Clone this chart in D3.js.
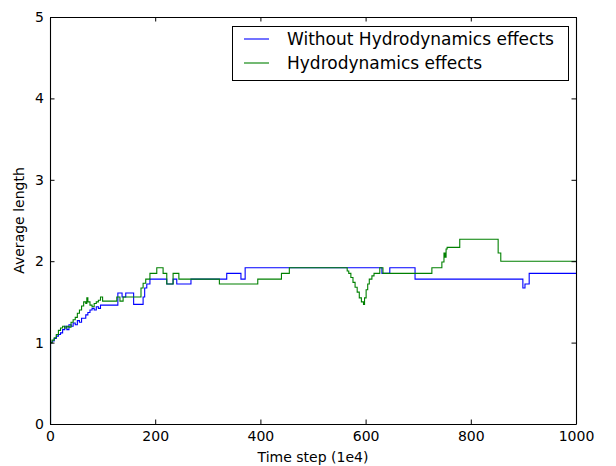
<!DOCTYPE html>
<html>
<head>
<meta charset="utf-8">
<script src="https://cdn.jsdelivr.net/npm/d3@7"></script>
<style>
  html, body { margin: 0; padding: 0; background: #ffffff; }
  svg { display: block; font-family: "DejaVu Sans", sans-serif; }
</style>
</head>
<body>
<script>
// ---- data ----
const seriesNames = ["Without Hydrodynamics effects", "Hydrodynamics effects"];
const seriesColors = ["#0000ff", "#008000"];

const xTicks = [0, 200, 400, 600, 800, 1000];
const yTicks = [0, 1, 2, 3, 4, 5];

// step-after points: [time step, average length]
const withoutHydro = [
  [0,0],[1,1.0],[4,1.02],[8,1.05],[12,1.08],[16,1.1],[20,1.12],[24,1.16],[28,1.2],[32,1.16],
  [36,1.22],[40,1.2],[44,1.24],[48,1.22],[52,1.27],[56,1.25],[60,1.3],[64,1.3],[68,1.34],
  [72,1.37],[76,1.4],[80,1.42],[84,1.4],[88,1.44],[92,1.42],[96,1.46],[129,1.61],[137,1.56],
  [144,1.61],[159,1.47],[177,1.56],[180,1.67],[184,1.72],[190,1.78],[222,1.72],[234,1.78],
  [241,1.72],[268,1.78],[336,1.85],[363,1.78],[371,1.92],[631,1.85],[646,1.92],[694,1.78],
  [899,1.67],[903,1.72],[911,1.85],[1000,1.85]
];
const withHydro = [
  [0,0],[1,1.0],[4,1.03],[8,1.06],[12,1.1],[16,1.15],[20,1.18],[24,1.2],[28,1.18],[32,1.2],
  [36,1.19],[40,1.25],[44,1.28],[48,1.31],[52,1.36],[56,1.4],[60,1.45],[64,1.5],[68,1.48],
  [70,1.55],[72,1.5],[76,1.46],[80,1.44],[84,1.48],[88,1.5],[92,1.52],[96,1.56],[100,1.51],
  [127,1.56],[133,1.51],[139,1.56],[173,1.67],[177,1.73],[182,1.78],[190,1.85],[203,1.92],
  [215,1.85],[222,1.72],[234,1.85],[245,1.78],[322,1.72],[395,1.78],[440,1.85],[455,1.92],
  [565,1.88],[568,1.85],[572,1.8],[576,1.74],[580,1.68],[584,1.62],[588,1.55],[592,1.5],
  [596,1.47],[598,1.55],[601,1.65],[604,1.72],[607,1.78],[612,1.82],[616,1.85],[627,1.92],
  [633,1.85],[726,1.92],[745,1.99],[749,2.1],[751,2.05],[753,2.15],[755,2.17],[779,2.27],
  [852,2.1],[857,2.0],[1000,2.0]
];

const xLabel = "Time step (1e4)";
const yLabel = "Average length";

// ---- layout ----
const W = 616, H = 466;
const plot = { left: 50, right: 576, top: 17, bottom: 424 };

const svg = d3.select("body").append("svg")
  .attr("width", W).attr("height", H);
svg.append("rect").attr("width", W).attr("height", H).attr("fill", "#fff");

const x = d3.scaleLinear().domain([0, 1000]).range([plot.left, plot.right]);
const y = d3.scaleLinear().domain([0, 5]).range([plot.bottom, plot.top]);

svg.append("defs").append("clipPath").attr("id", "clip")
  .append("rect")
  .attr("x", plot.left).attr("y", plot.top)
  .attr("width", plot.right - plot.left).attr("height", plot.bottom - plot.top);

const line = d3.line()
  .x(d => x(d[0])).y(d => y(d[1]))
  .curve(d3.curveStepAfter);

const g = svg.append("g").attr("clip-path", "url(#clip)");
[withoutHydro, withHydro].forEach((data, i) => {
  g.append("path")
    .datum(data)
    .attr("d", line)
    .attr("fill", "none")
    .attr("stroke", seriesColors[i])
    .attr("stroke-width", 1.1);
});

// ---- axes ----
const tickFont = 14;
function styleAxis(sel) {
  sel.selectAll("path.domain").attr("stroke", "#000").attr("stroke-width", 1.1);
  sel.selectAll(".tick line").attr("stroke", "#000").attr("stroke-width", 1);
  sel.selectAll(".tick text").attr("fill", "#000")
    .style("font-size", tickFont + "px").style("font-family", "DejaVu Sans");
}

svg.append("g").attr("transform", `translate(0,${plot.bottom})`)
  .call(d3.axisBottom(x).tickValues(xTicks).tickFormat(d3.format("d"))
    .tickSize(-4.5).tickSizeOuter(0).tickPadding(7))
  .call(styleAxis);
svg.append("g").attr("transform", `translate(0,${plot.top})`)
  .call(d3.axisTop(x).tickValues(xTicks).tickFormat("")
    .tickSize(-4.5).tickSizeOuter(0))
  .call(styleAxis);
svg.append("g").attr("transform", `translate(${plot.left},0)`)
  .call(d3.axisLeft(y).tickValues(yTicks).tickFormat(d3.format("d"))
    .tickSize(-4.5).tickSizeOuter(0).tickPadding(6))
  .call(styleAxis);
svg.append("g").attr("transform", `translate(${plot.right},0)`)
  .call(d3.axisRight(y).tickValues(yTicks).tickFormat("")
    .tickSize(-4.5).tickSizeOuter(0))
  .call(styleAxis);

// axis labels
svg.append("text")
  .attr("x", (plot.left + plot.right) / 2).attr("y", 462)
  .attr("text-anchor", "middle")
  .style("font-size", "14px").text(xLabel);
svg.append("text")
  .attr("transform", `translate(24,${(plot.top + plot.bottom) / 2}) rotate(-90)`)
  .attr("text-anchor", "middle")
  .style("font-size", "14px").text(yLabel);

// ---- legend ----
const lg = svg.append("g");
lg.append("rect")
  .attr("x", 232.5).attr("y", 26.5).attr("width", 336).attr("height", 54)
  .attr("fill", "#fff").attr("stroke", "#000").attr("stroke-width", 1);
seriesNames.forEach((name, i) => {
  const yy = 39 + i * 24;
  lg.append("line")
    .attr("x1", 244).attr("x2", 269).attr("y1", yy).attr("y2", yy)
    .attr("stroke", seriesColors[i]).attr("stroke-width", 1.1);
  lg.append("text")
    .attr("x", 287).attr("y", yy).attr("dy", "0.36em")
    .style("font-size", "17px").text(name);
});
</script>
</body>
</html>
